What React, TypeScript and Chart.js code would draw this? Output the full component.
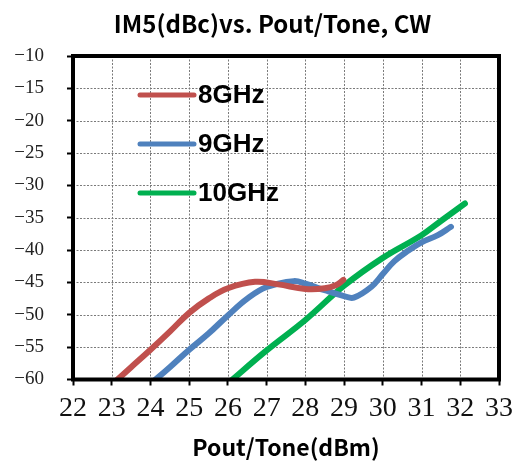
import React, { useEffect, useRef } from 'react';
import { Chart, registerables } from 'chart.js';

Chart.register(...registerables);

const chartTitle = 'IM5(dBc)vs. Pout/Tone, CW';
const xTitle = 'Pout/Tone(dBm)';
const seriesLabels = ['8GHz', '9GHz', '10GHz'];
const seriesColors = ['#C0504D', '#4F81BD', '#00B050'];

const pout8 = [23.0, 23.5, 24, 24.5, 25, 25.5, 26, 26.7, 27.3, 28, 28.5, 28.8, 28.98];
const im5_8 = [-60.8, -58.1, -55.4, -52.6, -49.7, -47.5, -45.9, -44.9, -45.3, -46.0, -45.9, -45.4, -44.6];

const pout9 = [24.0, 24.5, 25, 25.5, 26, 26.5, 27, 27.7, 28, 28.5, 29, 29.25, 29.7, 30, 30.3, 30.65, 31, 31.42, 31.76];
const im5_9 = [-60.7, -58.1, -55.4, -52.9, -50.1, -47.5, -45.7, -44.8, -45.2, -46.2, -47.1, -47.35, -45.7, -43.7, -41.7, -40.1, -38.8, -37.7, -36.4];

const pout10 = [26.0, 27, 28, 29, 30, 31, 31.5, 32.12];
const im5_10 = [-60.6, -55.5, -50.8, -45.5, -41.2, -37.7, -35.5, -32.8];

const xMin = 22;
const xMax = 33;
const yMin = -60;
const yMax = -10;

const toPoints = (xs: number[], ys: number[]) => xs.map((x, i) => ({ x, y: ys[i] }));

const decorPlugin = {
  id: 'decor',
  beforeDatasetsDraw(chart: any) {
    const { ctx, chartArea: a, scales } = chart;
    ctx.save();
    ctx.strokeStyle = '#7a7a7a';
    ctx.lineWidth = 1;
    ctx.setLineDash([2, 1.5]);
    scales.x.ticks.forEach((t: any) => {
      const px = Math.round(scales.x.getPixelForValue(t.value)) + 0.5;
      ctx.beginPath();
      ctx.moveTo(px, a.top);
      ctx.lineTo(px, a.bottom);
      ctx.stroke();
    });
    scales.y.ticks.forEach((t: any) => {
      const py = Math.round(scales.y.getPixelForValue(t.value)) + 0.5;
      ctx.beginPath();
      ctx.moveTo(a.left, py);
      ctx.lineTo(a.right, py);
      ctx.stroke();
    });
    ctx.restore();
  },
  afterDatasetsDraw(chart: any) {
    const { ctx, chartArea: a } = chart;
    ctx.save();
    ctx.strokeStyle = '#000';
    ctx.lineWidth = 4;
    ctx.strokeRect(a.left, a.top, a.right - a.left, a.bottom - a.top);
    ctx.restore();
  },
  afterDraw(chart: any) {
    const { ctx, chartArea: a } = chart;
    ctx.save();
    ctx.fillStyle = '#000';
    ctx.font = 'bold 24px "Noto Sans CJK SC", sans-serif';
    ctx.textAlign = 'center';
    ctx.textBaseline = 'middle';
    ctx.fillText(chartTitle, 272.5, 24);
    chart.data.datasets.forEach((ds: any, i: number) => {
      const y = a.top + 39 + i * 49;
      const x0 = a.left + 67;
      ctx.strokeStyle = ds.borderColor;
      ctx.lineWidth = 5;
      ctx.lineCap = 'round';
      ctx.beginPath();
      ctx.moveTo(x0, y);
      ctx.lineTo(x0 + 54, y);
      ctx.stroke();
      ctx.fillStyle = '#000';
      ctx.font = 'bold 26px "Liberation Sans", Arial, sans-serif';
      ctx.textAlign = 'left';
      ctx.textBaseline = 'middle';
      ctx.fillText(ds.label, x0 + 58, y + 1);
    });
    ctx.restore();
  },
};

const gridOpts = {
  display: true,
  drawOnChartArea: false,
  color: '#808080',
  lineWidth: 1,
  tickLength: 6,
  tickColor: '#000000',
  tickWidth: 2,
};

export default function App() {
  const ref = useRef<HTMLCanvasElement>(null);
  useEffect(() => {
    if (!ref.current) return;
    const xsList = [pout8, pout9, pout10];
    const ysList = [im5_8, im5_9, im5_10];
    const chart = new Chart(ref.current, {
      type: 'line',
      data: {
        datasets: seriesLabels.map((label, i) => ({
          label,
          data: toPoints(xsList[i], ysList[i]),
          borderColor: seriesColors[i],
          backgroundColor: seriesColors[i],
          borderWidth: 6,
          borderCapStyle: 'round',
          borderJoinStyle: 'round',
          pointRadius: 0,
          tension: 0.4,
          fill: false,
        })),
      },
      options: {
        animation: false,
        responsive: false,
        devicePixelRatio: 1,
        layout: { padding: { top: 56, right: 17, bottom: 0, left: 0 } },
        plugins: {
          legend: { display: false },
          title: { display: false },
          tooltip: { enabled: false },
        },
        scales: {
          x: {
            type: 'linear',
            min: xMin,
            max: xMax,
            afterFit: (s: any) => { s.height = 81.5; },
            ticks: {
              stepSize: 1,
              color: '#111',
              padding: 6,
              font: { family: '"Liberation Serif", serif', size: 28 },
            },
            grid: gridOpts,
            border: { display: false },
            title: {
              display: true,
              text: xTitle,
              color: '#000',
              font: { family: '"Noto Sans CJK SC", sans-serif', size: 23, weight: 'bold' },
              padding: { top: 0, bottom: 0 },
            },
          },
          y: {
            type: 'linear',
            min: yMin,
            max: yMax,
            afterFit: (s: any) => { s.width = 73; },
            ticks: {
              stepSize: 5,
              color: '#222',
              padding: 23,
              font: { family: '"Liberation Serif", serif', size: 19 },
              callback: (v: any) => String(v).replace('-', '\u2212'),
            },
            grid: gridOpts,
            border: { display: false },
          },
        },
      },
      plugins: [decorPlugin],
    } as any);
    return () => chart.destroy();
  }, []);
  return (
    <div style={{ position: 'absolute', left: 0, top: 0, width: 519, height: 461 }}>
      <canvas ref={ref} width={519} height={461} />
    </div>
  );
}
